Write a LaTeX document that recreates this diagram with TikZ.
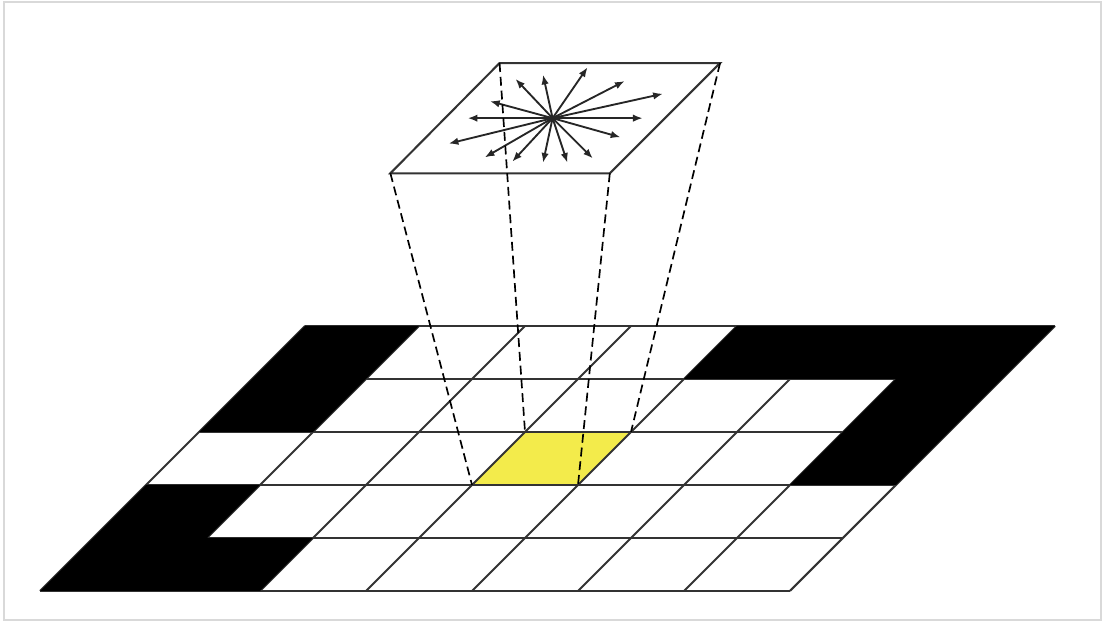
\documentclass[tikz,border=0pt]{standalone}
\usetikzlibrary{arrows.meta}

\definecolor{cellyellow}{RGB}{243,235,75}

\begin{document}
\begin{tikzpicture}[
  gridline/.style={line width=0.55pt, draw=black!80},
  patch/.style={line width=0.55pt, draw=black!80},
  ray/.style={line width=0.5pt, draw=black!85, -{Latex[length=2.6pt,width=2pt]}},
  proj/.style={line width=0.45pt, dash pattern=on 2.4pt off 1.3pt}]
  \useasboundingbox (-0.453,-0.302) rectangle (9.981,5.575);
  \draw[black!15, line width=0.45pt] (-0.415,-0.274) rectangle (9.934,5.557);

  % 底面网格 7x5，斜切
  \begin{scope}[cm={1,0,0.5,0.5,(0,0)}]
    \fill[cellyellow] (3,2) -- (4,2) -- (4,3) -- (3,3) -- cycle;
    \foreach \v in {0,...,5}
      \draw[gridline] (-0.075,\v) -- (7,\v);
    \foreach \u in {-0.075,1,2,3,4,5,6,7}
      \draw[gridline] (\u,0) -- (\u,5);
    % 黑色格子
    \fill (-0.075,3) -- (1,3) -- (1,5) -- (-0.075,5) -- cycle;
    \fill (-0.075,0) -- (2,0) -- (2,1) -- (1,1) -- (1,2) -- (-0.075,2) -- cycle;
    \fill (4,4) -- (6,4) -- (6,2) -- (7,2) -- (7,5) -- (4,5) -- cycle;
    \coordinate (Y1) at (3,2);
    \coordinate (Y2) at (4,2);
    \coordinate (Y3) at (4,3);
    \coordinate (Y4) at (3,3);
  \end{scope}

  % 上方放大的格子
  \coordinate (P1) at (3.23,3.94);
  \coordinate (P2) at (5.30,3.94);
  \coordinate (P3) at (6.34,4.98);
  \coordinate (P4) at (4.26,4.98);
  \coordinate (C) at (4.76,4.46);
  \draw[patch] (P1) -- (P2) -- (P3) -- (P4) -- cycle;

  \foreach \dx/\dy in {0.33/0.48, -0.09/0.41, -0.35/0.37, 0.68/0.35,
                       1.04/0.23, -0.59/0.16, -0.80/0, 0.85/0,
                       0.64/-0.18, -0.98/-0.24, -0.64/-0.37, -0.38/-0.41,
                       -0.09/-0.42, 0.14/-0.42, 0.38/-0.38}
    \draw[ray] (C) -- ++(\dx,\dy);

  \draw[proj] (P1) -- (Y1);
  \draw[proj] (P2) -- (Y2);
  \draw[proj] (P3) -- (Y3);
  \draw[proj] (P4) -- (Y4);
\end{tikzpicture}
\end{document}
